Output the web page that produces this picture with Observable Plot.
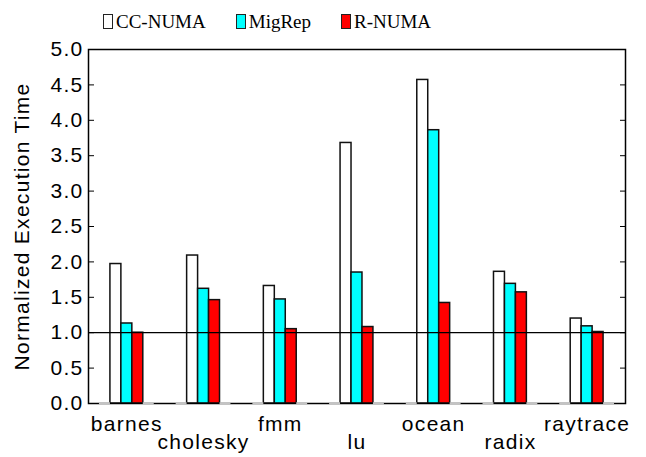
<!DOCTYPE html>
<html><head><meta charset="utf-8">
<script src="https://cdn.jsdelivr.net/npm/d3@7"></script>
<script src="https://cdn.jsdelivr.net/npm/@observablehq/plot@0.6"></script>
<style>
body{margin:0;background:#fff;}
#legend{height:36px;box-sizing:border-box;padding-left:103px;padding-top:12px;display:flex;align-items:flex-start;gap:30px;font-family:"Liberation Serif","Times New Roman",serif;font-size:19px;line-height:19px;color:#000;}
.item{display:flex;align-items:flex-end;}
.sw{width:8px;height:13px;border:1px solid #222;margin-right:3px;margin-bottom:2px;}
</style></head>
<body>
<div id="legend"></div>
<div id="chart"></div>
<script>
const benchmarks = ["barnes","cholesky","fmm","lu","ocean","radix","raytrace"];
const series = ["CC-NUMA","MigRep","R-NUMA"];
const colors = ["#ffffff","#00ffff","#ff0000"];
const ccNuma = [1.97, 2.09, 1.66, 3.68, 4.57, 1.86, 1.20];
const migRep = [1.13, 1.62, 1.47, 1.85, 3.86, 1.69, 1.09];
const rNuma  = [1.00, 1.46, 1.05, 1.08, 1.42, 1.57, 1.01];
const yTicks = [0.0,0.5,1.0,1.5,2.0,2.5,3.0,3.5,4.0,4.5,5.0];

const values = [ccNuma, migRep, rNuma];
const slots = ["pad0","empty1", ...series, "empty2","pad1"];
const key = (b,s) => b + "|" + s;
const bars = benchmarks.flatMap((b,i) => series.map((s,j) => ({benchmark:b, series:s, value:values[j][i]})));
const empties = benchmarks.flatMap(b => ["empty1","empty2"].map(s => ({benchmark:b, series:s, value:0})));
const xDomain = benchmarks.flatMap(b => slots.map(s => key(b,s)));

const legend = document.getElementById("legend");
series.forEach((s,i) => {
  const it = document.createElement("div"); it.className = "item";
  const sw = document.createElement("div"); sw.className = "sw"; sw.style.background = colors[i];
  const t = document.createElement("span"); t.textContent = s;
  it.appendChild(sw); it.appendChild(t); legend.appendChild(it);
});

const chart = Plot.plot({
  width: 646, height: 421,
  marginTop: 13, marginBottom: 54, marginLeft: 88, marginRight: 21,
  x: {type: "band", domain: xDomain, padding: 0, axis: null},
  y: {domain: [0, 5], axis: null},
  color: {domain: series, range: colors},
  style: {fontFamily: "Liberation Sans, Arial, sans-serif", fontSize: "21px", letterSpacing: "1.3px", color: "#000", background: "#fff"},
  marks: [
    Plot.barY(bars, {x: d => key(d.benchmark, d.series), y: "value", fill: "series", stroke: "#111", strokeWidth: 1.5}),
    Plot.ruleY([1], {stroke: "#000", strokeWidth: 1.3}),
    Plot.frame({stroke: "#000", strokeWidth: 1.5}),
    Plot.tickY(empties, {x: d => key(d.benchmark, d.series), y: "value", stroke: "#c4c4c4", strokeWidth: 2.5}),
    Plot.axisY({anchor: "left", ticks: yTicks, tickFormat: d => d.toFixed(1), tickSize: -6, tickPadding: 11,
      label: "Normalized Execution Time", labelAnchor: "center", labelArrow: "none", labelOffset: 74}),
    Plot.axisY({anchor: "right", ticks: yTicks, tickSize: -6, tickFormat: () => "", label: null}),
    Plot.text(benchmarks.filter((d,i) => i % 2 === 0), {x: d => key(d, "MigRep"), text: d => d, frameAnchor: "bottom", lineAnchor: "top", dy: 13}),
    Plot.text(benchmarks.filter((d,i) => i % 2 === 1), {x: d => key(d, "MigRep"), text: d => d, frameAnchor: "bottom", lineAnchor: "top", dy: 31})
  ]
});
document.getElementById("chart").appendChild(chart);
</script>
</body></html>
